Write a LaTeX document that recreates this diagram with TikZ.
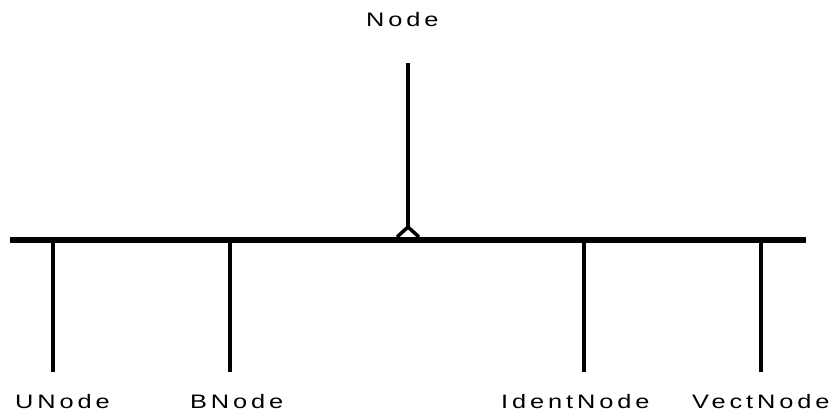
\documentclass[tikz,border=0pt]{standalone}
\usepackage{fontspec}
\setmainfont{Liberation Sans}[LetterSpace=20,FakeStretch=1.3]
\usetikzlibrary{calc}
\begin{document}
\begin{tikzpicture}[x=1pt,y=-1pt,
  lbl/.style={anchor=base west,inner sep=0pt,font=\fontsize{19.5}{22}\selectfont},
  bus/.style={line width=6.5pt},
  wire/.style={line width=3.5pt},
  barb/.style={line width=3.5pt,line cap=butt,line join=miter}]
  \useasboundingbox (0,0) rectangle (834,414);
  % main bus
  \coordinate (busL) at (10,240);
  \coordinate (busR) at (806,240);
  \draw[bus] (busL) -- (busR);
  % parent label and its link down to the bus
  \node[lbl] (node) at (366,27) {Node};
  \coordinate (nodeTop) at (408,63);
  \coordinate (nodeTip) at (408,227);
  \draw[wire] (nodeTop) -- (nodeTip);
  \draw[barb] ($(nodeTip)+(-11,10)$) -- (nodeTip) -- ($(nodeTip)+(11,10)$);
  % child labels
  \node[lbl] (unode) at (15,408) {UNode};
  \node[lbl] (bnode) at (190,408) {BNode};
  \node[lbl] (inode) at (501,408) {IdentNode};
  \node[lbl] (vnode) at (692,408) {VectNode};
  % child drops from the bus
  \foreach \n/\x in {u/53,b/230,i/584,v/761}{
    \coordinate (\n top) at (\x,240);
    \coordinate (\n bot) at (\x,372);
    \draw[wire] (\n top) -- (\n bot);
  }
\end{tikzpicture}
\end{document}
